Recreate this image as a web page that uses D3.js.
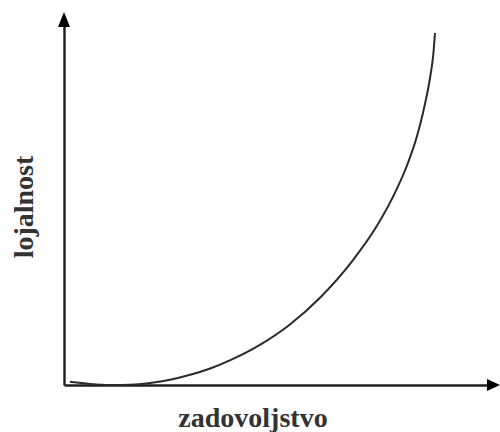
<!DOCTYPE html>
<html>
<head>
<meta charset="utf-8">
<script src="https://cdn.jsdelivr.net/npm/d3@7"></script>
<style>
  html, body { margin: 0; padding: 0; background: #fff; }
  svg { display: block; }
</style>
</head>
<body>
<svg id="chart" width="500" height="432"></svg>
<script>
// Data (satisfaction 0..10 vs loyalty 0..10)
const satisfaction = [0.16, 0.7, 1.24, 1.78, 2.32, 2.86, 3.4, 3.94, 4.47, 5.28, 6.09, 6.9, 7.79, 8.44, 8.87, 9.25, 9.51, 9.68, 9.87, 9.95, 10];
const loyalty      = [0.09, 0.03, 0, 0.01, 0.06, 0.15, 0.29, 0.47, 0.7, 1.14, 1.72, 2.48, 3.55, 4.53, 5.35, 6.25, 7.05, 7.75, 8.75, 9.35, 10];
const xLabel = "zadovoljstvo";
const yLabel = "lojalnost";

const svg = d3.select("#chart");
const x0 = 64, y0 = 385;
const x = d3.scaleLinear().domain([0, 10]).range([x0, 435]);
const y = d3.scaleLinear().domain([0, 10]).range([y0, 33]);
const ink = "#1e1e1e";

// axes (domain lines only, extended to arrow tips)
const xAxisScale = d3.scaleLinear().domain([0, 1]).range([x0, 490]);
const yAxisScale = d3.scaleLinear().domain([0, 1]).range([y0, 24]);
svg.append("g")
  .attr("transform", `translate(0,${y0})`)
  .call(d3.axisBottom(xAxisScale).ticks(0).tickSizeOuter(0))
  .call(g => g.select(".domain").attr("stroke", ink).attr("stroke-width", 2.4));
svg.append("g")
  .attr("transform", `translate(${x0},0)`)
  .call(d3.axisLeft(yAxisScale).ticks(0).tickSizeOuter(0))
  .call(g => g.select(".domain").attr("stroke", ink).attr("stroke-width", 2.4));

// arrowheads
svg.append("path")
  .attr("d", `M${x0},12 L${x0 - 6},27 L${x0 + 6},27 Z`)
  .attr("fill", "#000");
svg.append("path")
  .attr("d", `M500,${y0} L487,${y0 - 6} L487,${y0 + 6} Z`)
  .attr("fill", "#000");

// curve
const pts = satisfaction.map((s, i) => [s, loyalty[i]]);
const line = d3.line().x(d => x(d[0])).y(d => y(d[1])).curve(d3.curveMonotoneX);
svg.append("path")
  .datum(pts)
  .attr("d", line)
  .attr("fill", "none")
  .attr("stroke", "#2a2a2a")
  .attr("stroke-width", 2);

// labels
svg.append("text")
  .attr("x", 253).attr("y", 427)
  .attr("text-anchor", "middle")
  .attr("font-family", "'Liberation Serif', 'Times New Roman', serif")
  .attr("font-size", 28).attr("font-weight", "bold")
  .attr("fill", "#333")
  .text(xLabel);
svg.append("text")
  .attr("transform", "translate(33,207) rotate(-90)")
  .attr("text-anchor", "middle")
  .attr("font-family", "'Liberation Serif', 'Times New Roman', serif")
  .attr("font-size", 28).attr("font-weight", "bold")
  .attr("fill", "#333")
  .text(yLabel);
</script>
</body>
</html>
